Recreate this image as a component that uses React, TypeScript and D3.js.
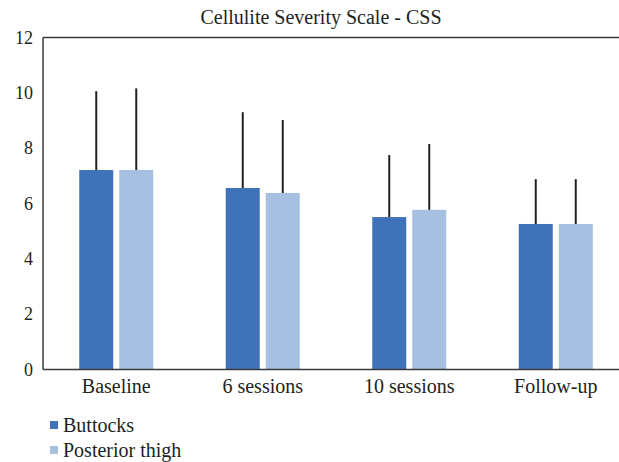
import * as d3 from "d3";
import { useEffect, useRef } from "react";

// data
const categories = ["Baseline", "6 sessions", "10 sessions", "Follow-up"];
const seriesNames = ["Buttocks", "Posterior thigh"];
const buttocksMean = [7.21, 6.56, 5.51, 5.26];
const buttocksSd = [2.85, 2.74, 2.24, 1.62];
const thighMean = [7.21, 6.38, 5.77, 5.26];
const thighSd = [2.95, 2.64, 2.38, 1.62];
const yTicks = [0, 2, 4, 6, 8, 10, 12];
const colors = ["#3f72b8", "#a7bfe0"];

const App = () => {
  const ref = useRef<SVGSVGElement | null>(null);

  const width = 619;
  const height = 462;
  const margin = { top: 37.5, left: 43, bottom: 92.5 };
  const font = "'Liberation Serif', 'DejaVu Serif', serif";

  useEffect(() => {
    const svg = d3.select(ref.current);
    svg.selectAll("*").remove();

    // plot continues past the right edge of the picture
    const x = d3.scaleBand().domain(categories).range([margin.left, 629]);
    const y = d3
      .scaleLinear()
      .domain([0, 12])
      .range([height - margin.bottom, margin.top]);

    const barW = 34;
    const gap = 6;

    svg
      .append("text")
      .attr("x", 321)
      .attr("y", 24)
      .attr("text-anchor", "middle")
      .style("font-family", font)
      .style("font-size", "20px")
      .attr("fill", "#231f20")
      .text("Cellulite Severity Scale - CSS");

    const rows = categories.map((c, i) => ({
      cat: c,
      vals: [
        { m: buttocksMean[i], sd: buttocksSd[i] },
        { m: thighMean[i], sd: thighSd[i] },
      ],
    }));

    const g = svg.append("g");
    rows.forEach((r) => {
      const cx = (x(r.cat) ?? 0) + x.bandwidth() / 2;
      r.vals.forEach((v, k) => {
        const x0 = k === 0 ? cx - gap / 2 - barW : cx + gap / 2;
        g.append("rect")
          .attr("x", x0)
          .attr("y", y(v.m))
          .attr("width", barW)
          .attr("height", y(0) - y(v.m))
          .attr("fill", colors[k]);
        g.append("line")
          .attr("x1", x0 + barW / 2)
          .attr("x2", x0 + barW / 2)
          .attr("y1", y(v.m))
          .attr("y2", y(v.m + v.sd))
          .attr("stroke", "#231f20")
          .attr("stroke-width", 2);
      });
    });

    // frame lines
    const axisColor = "#3a3a3a";
    svg.append("line")
      .attr("x1", margin.left).attr("x2", width)
      .attr("y1", y(12)).attr("y2", y(12))
      .attr("stroke", axisColor).attr("stroke-width", 1.5);
    svg.append("line")
      .attr("x1", margin.left).attr("x2", width)
      .attr("y1", y(0)).attr("y2", y(0))
      .attr("stroke", axisColor).attr("stroke-width", 1.5);
    svg.append("line")
      .attr("x1", margin.left).attr("x2", margin.left)
      .attr("y1", y(12)).attr("y2", y(0))
      .attr("stroke", axisColor).attr("stroke-width", 1.5);

    // y tick labels
    svg.selectAll(".ytick")
      .data(yTicks)
      .enter()
      .append("text")
      .attr("x", 33)
      .attr("y", (d) => y(d))
      .attr("dy", "0.35em")
      .attr("text-anchor", "end")
      .style("font-family", font)
      .style("font-size", "18px")
      .attr("fill", "#231f20")
      .text((d) => d);

    // x labels
    svg.selectAll(".xlab")
      .data(categories)
      .enter()
      .append("text")
      .attr("x", (d) => (x(d) ?? 0) + x.bandwidth() / 2)
      .attr("y", 393)
      .attr("text-anchor", "middle")
      .style("font-family", font)
      .style("font-size", "20px")
      .attr("fill", "#231f20")
      .text((d) => d);

    // legend
    seriesNames.forEach((s, i) => {
      const ly = 425 + i * 25;
      svg.append("rect")
        .attr("x", 50).attr("y", ly - 4)
        .attr("width", 8).attr("height", 8)
        .attr("fill", colors[i]);
      svg.append("text")
        .attr("x", 63).attr("y", ly + 7)
        .style("font-family", font)
        .style("font-size", "20px")
        .attr("fill", "#231f20")
        .text(s);
    });
  }, []);

  return (
    <svg
      ref={ref}
      width={width}
      height={height}
      style={{ position: "absolute", left: 0, top: 0, background: "#fff" }}
    ></svg>
  );
};

export default App;
